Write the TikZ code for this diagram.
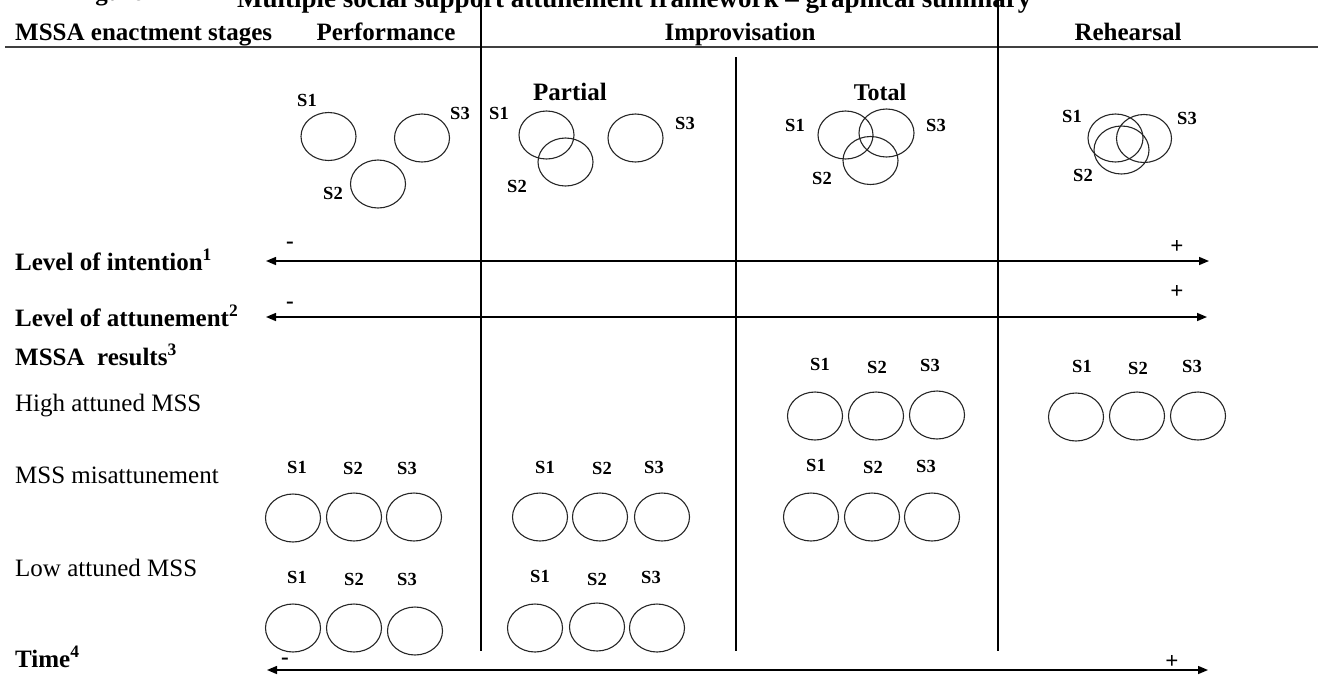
\documentclass[tikz,border=0pt]{standalone}
\usepackage{fontspec}
\setmainfont{Liberation Serif}
\usetikzlibrary{arrows.meta,shapes.geometric}
\begin{document}
\begin{tikzpicture}[x=1pt,y=-1pt,
  big/.style={font=\fontsize{25}{30}\selectfont\bfseries,inner sep=0pt},
  reg/.style={font=\fontsize{25}{30}\selectfont,inner sep=0pt},
  slab/.style={font=\fontsize{18.5}{22}\selectfont\bfseries,inner sep=0pt},
  sign/.style={font=\fontsize{23}{26}\selectfont\bfseries,inner sep=0pt},
  ring/.style={draw=black!85,line width=1.1pt,ellipse,minimum width=55pt,minimum height=48pt,inner sep=0pt},
  divider/.style={line width=1.6pt,black},
  axisline/.style={line width=1.5pt,{Triangle[length=10pt,width=8pt]}-{Triangle[length=10pt,width=8pt]}}]
\useasboundingbox (0,0) rectangle (1324,678);
% title (cropped at the top edge, as in the reference)
\node[big,anchor=base west] (fig) at (73,0) {Figure 1};
\node[big,font=\fontsize{27}{30}\selectfont\bfseries,anchor=base west] (title) at (237,7) {Multiple social support attunement framework -- graphical summary};
% header
\node[big,anchor=base west] (hstage) at (15,40) {MSSA enactment stages};
\node[big,anchor=base] (hperf) at (386,40) {Performance};
\node[big,anchor=base] (himp) at (740,40) {Improvisation};
\node[big,anchor=base] (hreh) at (1128,40) {Rehearsal};
\coordinate (rl) at (5,47); \coordinate (rr) at (1318,47);
\draw[line width=1.3pt,black!75] (rl) -- (rr);
% dividers
\coordinate (d1t) at (481,0); \coordinate (d1b) at (481,651);
\coordinate (d2t) at (736,57); \coordinate (d2b) at (736,651);
\coordinate (d3t) at (998,0); \coordinate (d3b) at (998,651);
\draw[divider] (d1t) -- (d1b);
\draw[divider] (d2t) -- (d2b);
\draw[divider] (d3t) -- (d3b);
% sub headers
\node[big] (hpart) at (570,92) {Partial};
\node[big,font=\fontsize{24}{28}\selectfont\bfseries] (htot) at (880,92) {Total};
% top row: performance
\node[ring] (pa1) at (328.5,136.5) {};
\node[ring] (pa3) at (422,138) {};
\node[ring] (pa2) at (378,184) {};
\node[slab] (pa1l) at (307,100) {S1};
\node[slab] (pa3l) at (460,113) {S3};
\node[slab] (pa2l) at (333,193) {S2};
% partial
\node[ring] (pp1) at (546.5,135) {};
\node[ring] (pp2) at (565.5,162) {};
\node[ring] (pp3) at (635.5,138) {};
\node[slab] (pp1l) at (499,113) {S1};
\node[slab] (pp3l) at (685,123) {S3};
\node[slab] (pp2l) at (517,186) {S2};
% total
\node[ring] (pt1) at (845.5,135) {};
\node[ring] (pt3) at (886.5,133) {};
\node[ring] (pt2) at (870.5,160.5) {};
\node[slab] (pt1l) at (795,125) {S1};
\node[slab] (pt3l) at (936,125) {S3};
\node[slab] (pt2l) at (822,178) {S2};
% rehearsal
\node[ring] (pr1) at (1115.5,138) {};
\node[ring] (pr3) at (1144,138.5) {};
\node[ring] (pr2) at (1121.5,150) {};
\node[slab] (pr1l) at (1072,116) {S1};
\node[slab] (pr3l) at (1187,118) {S3};
\node[slab] (pr2l) at (1083,175) {S2};
% row labels
\node[big,anchor=base west] (lint) at (15,270) {Level of intention\textsuperscript{1}};
\node[big,anchor=base west] (latt) at (15,326) {Level of attunement\textsuperscript{2}};
\node[big,anchor=base west] (lres) at (15,365) {MSSA\ \ results\textsuperscript{3}};
\node[reg,anchor=base west] (lhigh) at (15,411) {High attuned MSS};
\node[reg,anchor=base west] (lmis) at (15,483) {MSS misattunement};
\node[reg,anchor=base west] (llow) at (15,576) {Low attuned MSS};
\node[big,anchor=base west] (ltime) at (15,667) {Time\textsuperscript{4}};
% scales
\coordinate (ia) at (266,261); \coordinate (ib) at (1209,261);
\coordinate (aa) at (266,317); \coordinate (ab) at (1207,317);
\coordinate (ta) at (267,670); \coordinate (tb) at (1208,670);
\draw[axisline] (ia) -- (ib);
\draw[axisline] (aa) -- (ab);
\draw[axisline] (ta) -- (tb);
\node[sign] (im) at (290,245) {-};
\node[sign] (ip) at (1177,247) {+};
\node[sign] (am) at (290,305) {-};
\node[sign] (ap) at (1177,292) {+};
\node[sign] (tm) at (285,661) {-};
\node[sign] (tp) at (1172,662) {+};
% results: total high
\node[ring] (th1) at (815,416) {}; \node[ring] (th2) at (876,416) {}; \node[ring] (th3) at (937,415) {};
\node[slab] (th1l) at (820,364) {S1}; \node[slab] (th2l) at (877,367) {S2}; \node[slab] (th3l) at (930,365) {S3};
% rehearsal high
\node[ring] (rh1) at (1076,417) {}; \node[ring] (rh2) at (1137,416) {}; \node[ring] (rh3) at (1198,416) {};
\node[slab] (rh1l) at (1082,366) {S1}; \node[slab] (rh2l) at (1138,368) {S2}; \node[slab] (rh3l) at (1192,366) {S3};
% misattunement: performance
\node[ring] (pm1) at (293,518) {}; \node[ring] (pm2) at (354,517) {}; \node[ring] (pm3) at (414,517) {};
\node[slab] (pm1l) at (297,467) {S1}; \node[slab] (pm2l) at (353,468) {S2}; \node[slab] (pm3l) at (407,468) {S3};
% misattunement: partial
\node[ring] (qm1) at (540,517) {}; \node[ring] (qm2) at (600,517) {}; \node[ring] (qm3) at (662,517) {};
\node[slab] (qm1l) at (545,467) {S1}; \node[slab] (qm2l) at (602,468) {S2}; \node[slab] (qm3l) at (654,467) {S3};
% misattunement: total
\node[ring] (tm1) at (811,517) {}; \node[ring] (tm2) at (872,517) {}; \node[ring] (tm3) at (932,517) {};
\node[slab] (tm1l) at (816,465) {S1}; \node[slab] (tm2l) at (873,467) {S2}; \node[slab] (tm3l) at (926,466) {S3};
% low: performance
\node[ring] (pl1) at (293,628) {}; \node[ring] (pl2) at (354,628) {}; \node[ring] (pl3) at (415,631) {};
\node[slab] (pl1l) at (297,577) {S1}; \node[slab] (pl2l) at (354,579) {S2}; \node[slab] (pl3l) at (407,579) {S3};
% low: partial
\node[ring] (ql1) at (535,628) {}; \node[ring] (ql2) at (597,627) {}; \node[ring] (ql3) at (657,628) {};
\node[slab] (ql1l) at (540,576) {S1}; \node[slab] (ql2l) at (597,579) {S2}; \node[slab] (ql3l) at (651,577) {S3};
\end{tikzpicture}
\end{document}
